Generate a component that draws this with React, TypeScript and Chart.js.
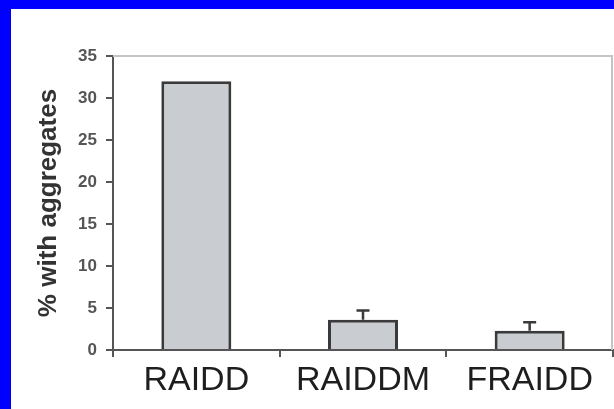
import React, { useEffect, useRef } from "react";
import { Chart, registerables } from "chart.js";

Chart.register(...registerables);

const categories = ["RAIDD", "RAIDDM", "FRAIDD"];
const values = [32.0, 3.6, 2.3];
const upperErrors = [0, 1.1, 1.0];
const yMin = 0;
const yMax = 35;
const yStep = 5;
const yTitle = "% with aggregates";

const errorBarPlugin = {
  id: "errorBars",
  afterDatasetsDraw(chart: any) {
    const meta = chart.getDatasetMeta(0);
    const yScale = chart.scales.y;
    const ctx = chart.ctx;
    ctx.save();
    ctx.strokeStyle = "#3a3a3a";
    ctx.lineWidth = 2.5;
    meta.data.forEach((el: any, i: number) => {
      const err = upperErrors[i];
      if (!err) return;
      const x = el.x;
      const yTop = yScale.getPixelForValue(values[i] + err);
      const yBar = yScale.getPixelForValue(values[i]);
      ctx.beginPath();
      ctx.moveTo(x, yBar);
      ctx.lineTo(x, yTop);
      ctx.moveTo(x - 6.5, yTop);
      ctx.lineTo(x + 6.5, yTop);
      ctx.stroke();
    });
    ctx.restore();
  },
};

const framePlugin = {
  id: "frame",
  beforeDatasetsDraw(chart: any) {
    const { left, right, top, bottom } = chart.chartArea;
    const ctx = chart.ctx;
    ctx.save();
    ctx.strokeStyle = "#c4c4c4";
    ctx.lineWidth = 2;
    ctx.beginPath();
    ctx.moveTo(left, top);
    ctx.lineTo(right - 1, top);
    ctx.lineTo(right - 1, bottom);
    ctx.stroke();
    ctx.restore();
  },
};

export default function App() {
  const ref = useRef<HTMLCanvasElement>(null);

  useEffect(() => {
    document.body.style.margin = "0";
    const canvas = ref.current;
    if (!canvas) return;
    Chart.defaults.font.family = "'Liberation Sans', Arial, sans-serif";
    const chart = new Chart(canvas, {
      type: "bar",
      data: {
        labels: categories,
        datasets: [
          {
            data: values,
            backgroundColor: "#c9ccd1",
            borderColor: "#3a3a3a",
            borderWidth: 3,
            borderSkipped: "bottom",
            categoryPercentage: 1,
            barPercentage: 0.42,
          },
        ],
      },
      options: {
        animation: false,
        responsive: false,
        maintainAspectRatio: false,
        devicePixelRatio: 1,
        layout: { padding: { top: 47, left: 0, right: 1, bottom: 0 } },
        plugins: {
          legend: { display: false },
          tooltip: { enabled: false },
        },
        scales: {
          x: {
            grid: {
              display: true,
              drawOnChartArea: false,
              drawTicks: true,
              tickLength: 7,
              color: "#555",
              lineWidth: 2,
              offset: true,
            },
            border: { display: true, color: "#555", width: 2 },
            ticks: {
              font: { size: 34 },
              color: "#1e1e1e",
              padding: 3,
              maxRotation: 0,
            },
            afterFit: (s: any) => {
              s.height = 59;
            },
          },
          y: {
            min: yMin,
            max: yMax,
            ticks: {
              stepSize: yStep,
              font: { size: 17, weight: "bold" },
              color: "#555",
              padding: 9,
            },
            grid: {
              drawOnChartArea: false,
              tickLength: 7,
              color: "#555",
              lineWidth: 2,
            },
            border: { display: true, color: "#555", width: 2 },
            title: {
              display: true,
              text: yTitle,
              font: { size: 26, weight: "bold" },
              color: "#333",
              padding: { top: 22, bottom: 0 },
            },
            afterFit: (s: any) => {
              s.width = 102;
            },
          },
        },
      },
      plugins: [errorBarPlugin, framePlugin],
    });
    return () => chart.destroy();
  }, []);

  return (
    <div
      style={{
        position: "fixed",
        left: 0,
        top: 0,
        width: 614,
        height: 409,
        background: "#0000ff",
        overflow: "hidden",
      }}
    >
      <div
        style={{
          position: "absolute",
          left: 11,
          top: 9,
          width: 603,
          height: 400,
          background: "#ffffff",
        }}
      >
        <canvas ref={ref} width={603} height={400} style={{ display: "block" }} />
      </div>
    </div>
  );
}
